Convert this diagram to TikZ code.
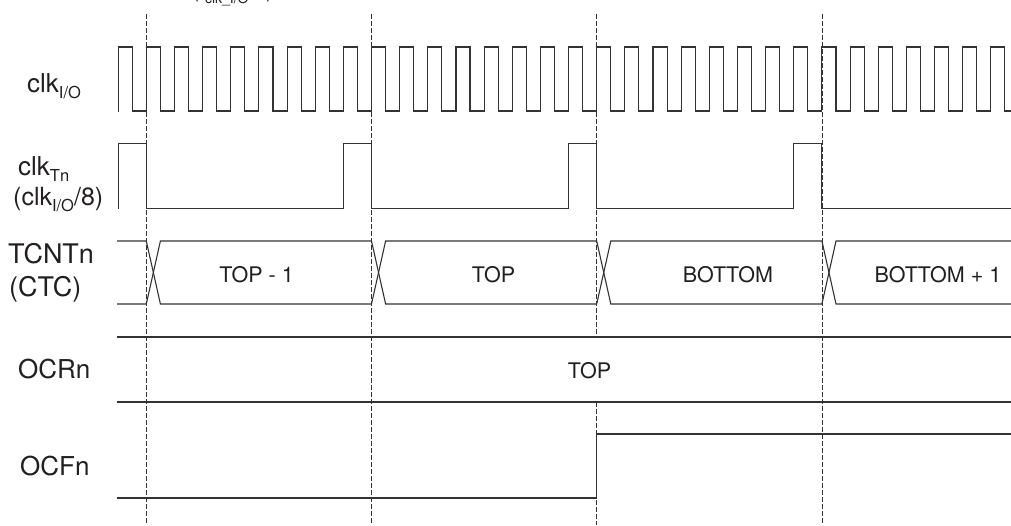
\documentclass[tikz,border=0pt]{standalone}
\usepackage{fontspec}
\setmainfont{TeX Gyre Heros}
\definecolor{ink}{HTML}{231F20}
\definecolor{wire}{HTML}{333333}
\newcommand\sbs[1]{\raisebox{-6.5pt}{\fontsize{16.5}{17}\selectfont #1}}
\begin{document}
\begin{tikzpicture}[x=1pt,y=-1pt,
  sig/.style={draw=wire,line width=1.1pt,line join=miter},
  guide/.style={draw=wire,line width=0.8pt,dash pattern=on 4.5pt off 2.5pt},
  lbl/.style={anchor=base west,inner sep=0pt,text=ink,font=\fontsize{26}{30}\selectfont},
  bus/.style={anchor=base,inner sep=0pt,text=ink,font=\fontsize{21.5}{26}\selectfont}]
\useasboundingbox (0,0) rectangle (1011,525);
\begin{scope}
\clip (0,0) rectangle (1011,525);
\node[anchor=base west,inner sep=0pt,text=ink,font=\fontsize{21}{25}\selectfont] (toptxt) at (192,-3) {(f{\raisebox{-6pt}{\fontsize{14}{14}\selectfont clk\_I/O}}/8)};
\end{scope}
% guide lines
\foreach \k in {0,1,3}{
  \coordinate (gt\k) at ({146.3+225.2*\k},14);
  \coordinate (gb\k) at ({146.3+225.2*\k},525);
  \draw[guide] (gt\k) -- (gb\k);
}
\coordinate (gt2) at (596.7,14);
\coordinate (gm2a) at (596.7,337);
\coordinate (gm2b) at (596.7,402);
\coordinate (gb2) at (596.7,525);
\draw[guide] (gt2) -- (gm2a);
\draw[guide] (gm2b) -- (gb2);
% clk I/O
\draw[sig] (118.15,111) \foreach \j in {-1,...,30}{
  -- ({146.3+28.15*\j},111) -- ({146.3+28.15*\j},47) -- ({160.375+28.15*\j},47) -- ({160.375+28.15*\j},111)} -- (1011,111);
% clk Tn
\draw[sig] (118.15,208.5) -- (118.15,143.5) -- (146.3,143.5) -- (146.3,208.5)
  -- (343.35,208.5) -- (343.35,143.5) -- (371.5,143.5) -- (371.5,208.5)
  -- (568.55,208.5) -- (568.55,143.5) -- (596.7,143.5) -- (596.7,208.5)
  -- (793.75,208.5) -- (793.75,143.5) -- (821.9,143.5) -- (821.9,208.5) -- (1011,208.5);
% TCNTn bus
\draw[sig] (117,241) -- (146.3,241) -- (160.4,304) -- (371.5,304) -- (385.6,241) -- (596.7,241) -- (610.8,304) -- (821.9,304) -- (836,241) -- (1011,241);
\draw[sig] (117,304) -- (146.3,304) -- (160.4,241) -- (371.5,241) -- (385.6,304) -- (596.7,304) -- (610.8,241) -- (821.9,241) -- (836,304) -- (1011,304);
% OCRn
\draw[sig] (117,337) -- (1011,337);
\draw[sig] (117,402) -- (1011,402);
% OCFn
\draw[sig] (117,498) -- (596.7,498) -- (596.7,434) -- (1011,434);
% labels
\node[lbl] (clkio) at (27,92) {clk\sbs{I/O}};
\node[lbl] (clktn) at (18,175) {clk\sbs{Tn}};
\node[lbl,font=\fontsize{25}{30}\selectfont] (clkdiv) at (13,205) {(clk\sbs{I/O}/8)};
\node[lbl,font=\fontsize{27}{30}\selectfont] (tcnt) at (8,263) {TCNTn};
\node[lbl,font=\fontsize{27}{30}\selectfont] (ctc) at (9,296) {(CTC)};
\node[lbl] (ocrn) at (18,378) {OCRn};
\node[lbl] (ocfn) at (20,475) {OCFn};
\node[bus] (v1) at (256.5,282) {TOP - 1};
\node[bus] (v2) at (493.5,282) {TOP};
\node[bus] (v3) at (728,282) {BOTTOM};
\node[bus] (v4) at (938,282) {BOTTOM + 1};
\node[bus] (ocrv) at (589.5,378) {TOP};
\end{tikzpicture}
\end{document}
